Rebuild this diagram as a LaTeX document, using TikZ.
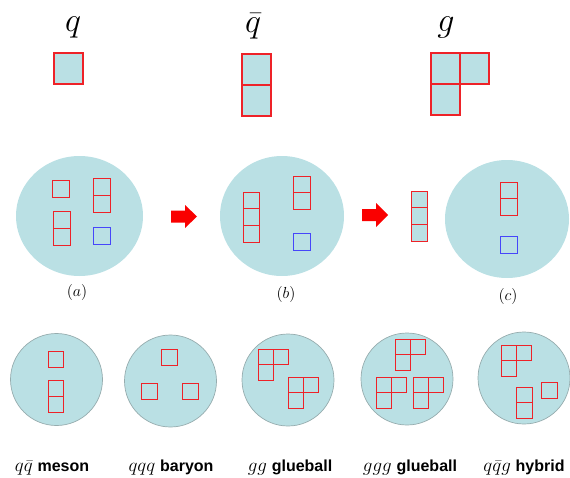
\RequirePackage{fix-cm}
\documentclass[tikz,border=0pt]{standalone}
\usepackage{fontspec}
\setsansfont{Liberation Sans}
\usetikzlibrary{shapes.geometric}
\definecolor{hadron}{RGB}{186,224,228}
\definecolor{qred}{RGB}{238,34,40}
\definecolor{qblue}{RGB}{70,70,250}
\definecolor{rim}{RGB}{150,172,174}
\definecolor{arrowred}{RGB}{250,0,0}

\begin{document}
\begin{tikzpicture}[x=1pt, y=-1pt,
  bag/.style={ellipse, fill=hadron, inner sep=0pt},
  ball/.style={circle, fill=hadron, draw=rim, line width=0.7pt, inner sep=0pt, minimum size=92pt},
  cell/.style={draw=qred, line width=0.9pt},
  anti/.style={draw=qblue, line width=0.9pt},
  big/.style={draw=qred, line width=1.6pt, fill=hadron},
  parton/.style={inner sep=0pt, font=\fontsize{34}{34}\selectfont},
  stage/.style={inner sep=0pt, font=\fontsize{16}{16}\selectfont},
  hadname/.style={inner sep=0pt, anchor=base, font=\fontsize{16}{16}\selectfont}]
  \useasboundingbox (0,0) rectangle (570,477);

  % single constituents
  \node[parton] (q) at (73,27) {$q$};
  \node[parton] (qbar) at (253,26) {$\bar{q}$};
  \node[parton] (g) at (446,27) {$g$};
  \draw[big] (54,53) rectangle +(29,31);
  \draw[big] (242,54) rectangle +(29,31) (242,85) rectangle +(29,31);
  \draw[big] (431,53) rectangle +(29,31) (460,53) rectangle +(29,31) (431,84) rectangle +(29,31);

  % colour neutralisation (a) -> (b) -> (c)
  \node[bag, minimum width=127pt, minimum height=120pt] (A) at (79.5,216) {};
  \node[bag, minimum width=124pt, minimum height=120pt] (B) at (282,216) {};
  \node[bag, minimum width=124pt, minimum height=118pt] (C) at (507,219) {};
  \node[stage] (la) at (77,292) {$(a)$};
  \node[stage] (lb) at (286,294) {$(b)$};
  \node[stage] (lc) at (508,296) {$(c)$};

  \draw[cell] (52,180) rectangle +(17,17);
  \draw[cell] (93,178) rectangle +(17,17) (93,195) rectangle +(17,17);
  \draw[cell] (53,211) rectangle +(17,17) (53,228) rectangle +(17,17);
  \draw[anti] (93,227) rectangle +(17,17);

  \draw[cell] (243,192) rectangle +(16.7,16.7) (243,208.7) rectangle +(16.7,16.7) (243,225.4) rectangle +(16.7,16.7);
  \draw[cell] (293,176) rectangle +(17,16.5) (293,192.5) rectangle +(17,16.5);
  \draw[anti] (293,233) rectangle +(17,17);

  \draw[cell, fill=hadron] (411,191) rectangle +(16.5,16.7) (411,207.7) rectangle +(16.5,16.7) (411,224.4) rectangle +(16.5,16.7);
  \draw[cell] (500,182) rectangle +(17,16.5) (500,198.5) rectangle +(17,16.5);
  \draw[anti] (500,236) rectangle +(17,17);

  \fill[arrowred] (171,210.5) -- (185,210.5) -- (185,205) -- (197,216.5) -- (185,228) -- (185,222.5) -- (171,222.5) -- cycle;
  \fill[arrowred] (362,209) -- (376,209) -- (376,203) -- (388,215) -- (376,227) -- (376,221) -- (362,221) -- cycle;

  % hadrons
  \node[ball] (meson) at (56.5,379.5) {};
  \node[ball] (baryon) at (170.5,381) {};
  \node[ball] (gg) at (288,380) {};
  \node[ball] (ggg) at (407,379) {};
  \node[ball] (hybrid) at (524,378) {};

  \draw[cell] (48,351) rectangle +(15.5,16);
  \draw[cell] (48,380) rectangle +(15.5,16) (48,396) rectangle +(15.5,16);

  \draw[cell] (161,349) rectangle +(16,16);
  \draw[cell] (141,383) rectangle +(16,16);
  \draw[cell] (182,383) rectangle +(16,16);

  \foreach \x/\y in {258/349, 288/377, 395/339, 376/377, 413/377, 501/345}
    \draw[cell] (\x,\y) rectangle +(15.4,15.6) (\x+15.4,\y) rectangle +(15.4,15.6) (\x,\y+15.6) rectangle +(15.4,15.6);

  \draw[cell] (516,387) rectangle +(16,15.5) (516,402.5) rectangle +(16,15.5);
  \draw[cell] (541,382) rectangle +(16,16);

  \node[hadname] (n1) at (52,471) {{\fontsize{19}{19}\selectfont$q\bar{q}$} \textsf{\bfseries meson}};
  \node[hadname] (n2) at (171,471) {{\fontsize{19}{19}\selectfont$qqq$} \textsf{\bfseries baryon}};
  \node[hadname] (n3) at (290,471) {{\fontsize{19}{19}\selectfont$gg$} \textsf{\bfseries glueball}};
  \node[hadname] (n4) at (410,471) {{\fontsize{19}{19}\selectfont$ggg$} \textsf{\bfseries glueball}};
  \node[hadname] (n5) at (524,471) {{\fontsize{19}{19}\selectfont$q\bar{q}g$} \textsf{\bfseries hybrid}};
\end{tikzpicture}
\end{document}
